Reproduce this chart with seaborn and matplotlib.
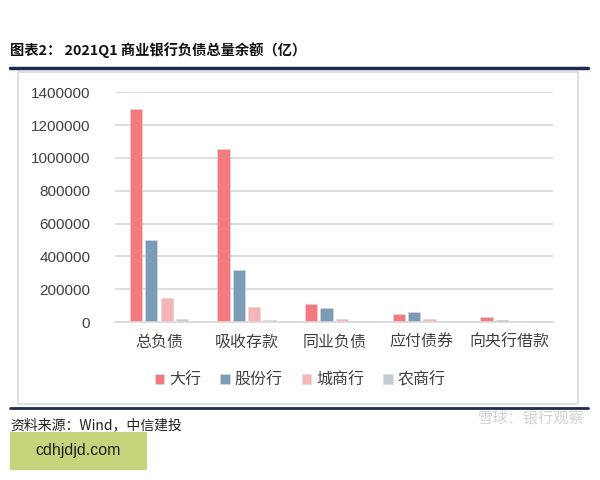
import pandas as pd
import matplotlib.pyplot as plt
import seaborn as sns
from matplotlib.patches import Rectangle
from matplotlib.lines import Line2D

# values (亿)
categories = ["总负债", "吸收存款", "同业负债", "应付债券", "向央行借款"]
banks = ["大行", "股份行", "城商行", "农商行"]
big = [1295000, 1051000, 108000, 47000, 29000]
joint = [501000, 316000, 86000, 63000, 15000]
city = [149000, 94000, 17000, 17000, 6000]
rural = [21000, 15000, 2000, 1500, 3000]
yticks = [0, 200000, 400000, 600000, 800000, 1000000, 1200000, 1400000]

colors = ["#F27A80", "#7B9BB7", "#F5B4B7", "#C4CCD4"]

rows = []
for bank, vals in zip(banks, [big, joint, city, rural]):
    for cat, v in zip(categories, vals):
        rows.append({"项目": cat, "银行": bank, "余额": v})
df = pd.DataFrame(rows)

sns.set_theme(style="white")
plt.rcParams["font.family"] = ["Liberation Sans", "Noto Sans CJK SC", "DejaVu Sans"]

fig = plt.figure(figsize=(6, 4.8), dpi=100)
ax = fig.add_axes([0.192, 0.329, 0.73, 0.479])

sns.barplot(data=df, x="项目", y="余额", hue="银行", hue_order=banks,
            palette=colors, saturation=1, width=0.7, gap=0.2,
            edgecolor="#d9d9d9", linewidth=0.4, ax=ax)

ax.set_ylim(0, 1400000)
ax.set_yticks(yticks)
ax.set_yticklabels([str(t) for t in yticks])
ax.set_xlabel("")
ax.set_ylabel("")
ax.yaxis.grid(True, color="#D9D9D9", linewidth=1.2)
ax.set_axisbelow(True)
for side in ["left", "right", "top"]:
    ax.spines[side].set_visible(False)
ax.spines["bottom"].set_color("#D9D9D9")
ax.spines["bottom"].set_linewidth(1.2)
ax.tick_params(axis="both", length=0, colors="#404040")
ax.tick_params(axis="y", labelsize=11, pad=18)
ax.tick_params(axis="x", labelsize=11.5, pad=9)

ax.legend(loc="center", bbox_to_anchor=(0.5, 0.208), bbox_transform=fig.transFigure,
          ncol=4, frameon=False, fontsize=11.5, handlelength=0.6, handleheight=0.6,
          handletextpad=0.3, columnspacing=1.2, labelcolor="#404040")

# frame, header rules, notes
fig.add_artist(Rectangle((18 / 600, 1 - 404 / 480), 560 / 600, 332 / 480,
                         transform=fig.transFigure, fill=False,
                         edgecolor="#D8D8D8", linewidth=1.2))
fig.add_artist(Line2D([10 / 600, 588 / 600], [1 - 68 / 480] * 2,
                      transform=fig.transFigure, color="#1F2A55", linewidth=2.5))
fig.add_artist(Line2D([10 / 600, 588 / 600], [1 - 408 / 480] * 2,
                      transform=fig.transFigure, color="#1F2A55", linewidth=2))

fig.text(10 / 600, 1 - 50 / 480, "图表2： 2021Q1 商业银行负债总量余额（亿）",
         fontsize=10.3, fontweight="bold", color="#111111", va="center",
         family=["Noto Sans CJK SC", "DejaVu Sans"])
fig.text(10 / 600, 1 - 425 / 480, "资料来源：Wind，中信建投",
         fontsize=10, fontstyle="italic", color="#222222", va="center",
         family=["Noto Sans CJK SC", "DejaVu Sans"])
fig.text(585 / 600, 1 - 418 / 480, "雪球：银行观察", fontsize=11,
         color="#BFBFBF", ha="right", va="center", alpha=0.7)

fig.add_artist(Rectangle((10 / 600, 1 - 470 / 480), 137 / 600, 38 / 480,
                         transform=fig.transFigure, facecolor="#C6D47B",
                         edgecolor="none"))
fig.text(78 / 600, 1 - 451 / 480, "cdhjdjd.com", fontsize=11.5,
         color="#222222", ha="center", va="center")

fig.savefig("out.png", dpi=100)
